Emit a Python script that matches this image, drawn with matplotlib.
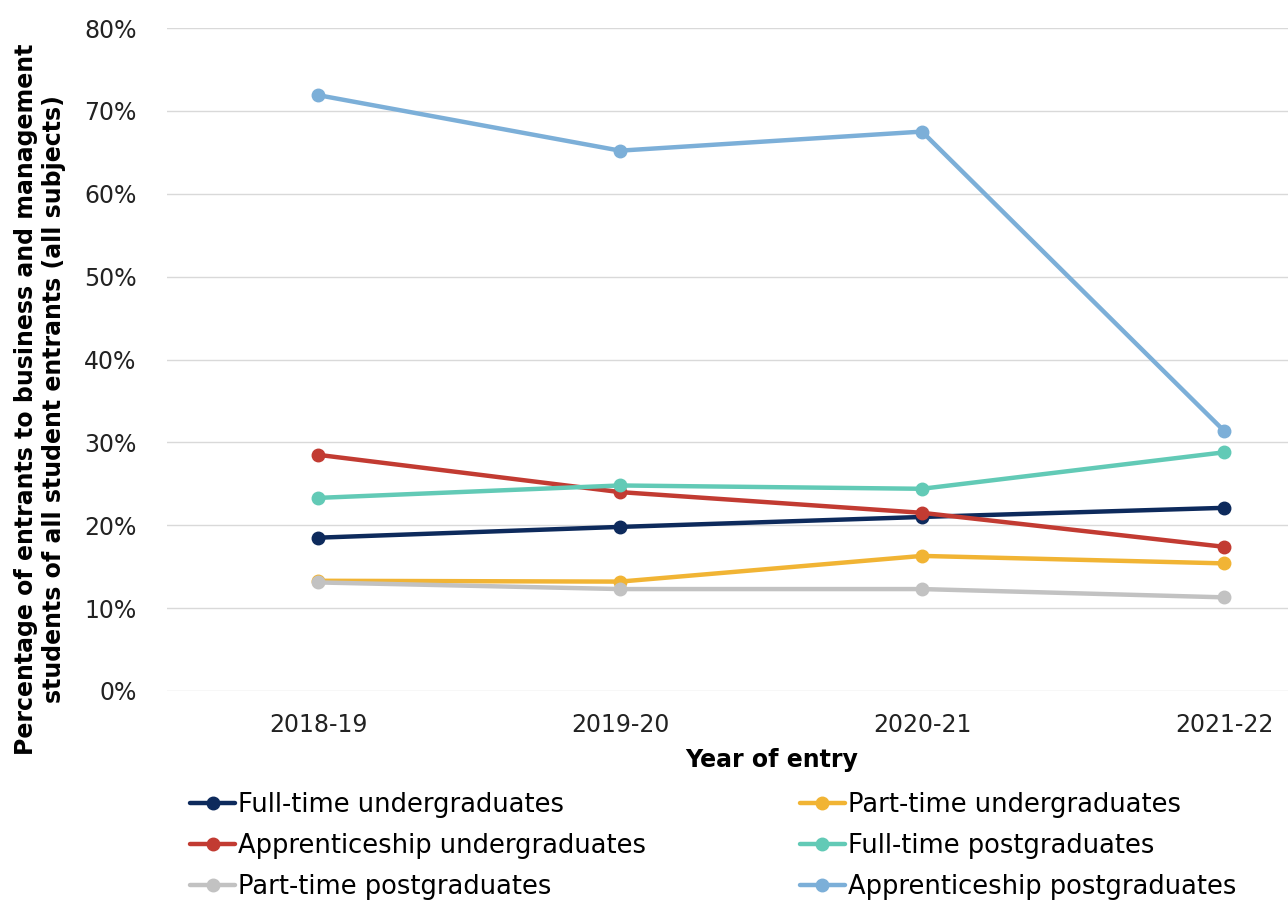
import numpy as np
import matplotlib.pyplot as plt
from matplotlib.ticker import PercentFormatter

plt.rcParams['font.family'] = ['DejaVu Sans']

years = ['2018-19', '2019-20', '2020-21', '2021-22']

ft_ug = [18.5, 19.8, 21.0, 22.1]
pt_ug = [13.3, 13.2, 16.3, 15.4]
app_ug = [28.5, 24.0, 21.5, 17.4]
ft_pg = [23.3, 24.8, 24.4, 28.8]
pt_pg = [13.1, 12.3, 12.3, 11.3]
app_pg = [71.9, 65.2, 67.5, 31.4]

series = [
    ('Full-time undergraduates', ft_ug, '#0d2a5c'),
    ('Part-time undergraduates', pt_ug, '#f1b434'),
    ('Apprenticeship undergraduates', app_ug, '#c23b32'),
    ('Full-time postgraduates', ft_pg, '#62cab6'),
    ('Part-time postgraduates', pt_pg, '#c2c2c2'),
    ('Apprenticeship postgraduates', app_pg, '#7cafd8'),
]

fig = plt.figure(figsize=(12.88, 9), dpi=100)
ax = fig.add_axes([167/1288, 1-691/900, 1-167/1288, (691-28)/900])

x = np.arange(len(years))
handles = {}
for name, vals, col in series:
    h, = ax.plot(x, vals, color=col, lw=3.2, marker='o', ms=9, label=name,
                 solid_capstyle='round')
    handles[name] = h

ax.set_ylim(0, 80)
ax.set_yticks(np.arange(0, 81, 10))
ax.yaxis.set_major_formatter(PercentFormatter(decimals=0))
ax.set_xlim(-0.5, (1288-167)/302 - 0.5)
ax.set_xticks(x)
ax.set_xticklabels(years)
ax.grid(axis='y', color='#d9d9d9', lw=1)
ax.set_axisbelow(True)
for s in ax.spines.values():
    s.set_visible(False)
ax.tick_params(length=0, labelsize=17, colors='#222222', pad=16)
ax.tick_params(axis='y', pad=22)

fig.text(772/1288, 1-760/900, 'Year of entry', ha='center', va='center',
         fontsize=17, fontweight='bold')
fig.text(40/1288, 1-399/900,
         'Percentage of entrants to business and management\nstudents of all student entrants (all subjects)',
         rotation=90, ha='center', va='center', fontsize=17, fontweight='bold',
         linespacing=1.2)

order = ['Full-time undergraduates', 'Apprenticeship undergraduates', 'Part-time postgraduates',
         'Part-time undergraduates', 'Full-time postgraduates', 'Apprenticeship postgraduates']
fig.legend([handles[n] for n in order], order, ncol=2, loc='upper left',
           bbox_to_anchor=(180/1288, 1-782/900), frameon=False, fontsize=18.5,
           handlelength=1.75, handletextpad=0.1, columnspacing=6.0, labelspacing=0.57,
           borderaxespad=0)

fig.savefig('out.png', dpi=100)
